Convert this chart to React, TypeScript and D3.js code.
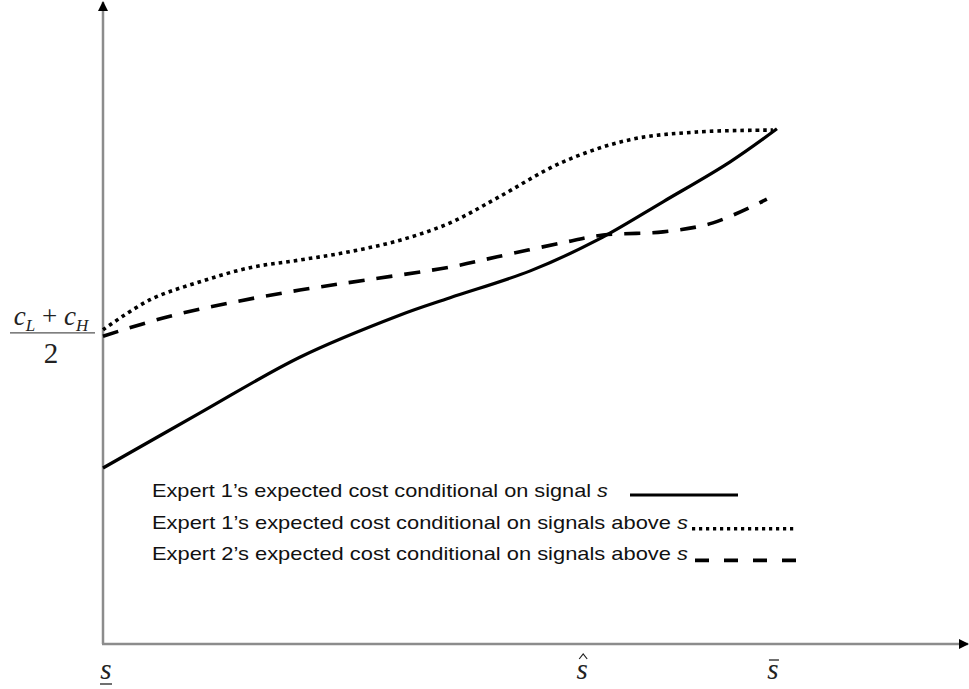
import React, { useEffect, useRef } from 'react';
import * as d3 from 'd3';

// signal axis: 0 = s (lower bound), 1 = s-bar (upper bound)
const xTicks = [
  { value: 0, label: 's', mark: 'under' },
  { value: 0.711, label: 's', mark: 'hat' },
  { value: 1.0, label: 's', mark: 'bar' },
];
const yTickValue = 48.6; // (c_L + c_H) / 2

// Expert 1's expected cost conditional on signal s
const solidX = [0, 0.144, 0.292, 0.441, 0.515, 0.634, 0.733, 0.831, 0.93, 1.0];
const solidY = [27.5, 36.1, 44.8, 51.4, 54.1, 58.3, 63.1, 69.1, 75.3, 80.5];

// Expert 1's expected cost conditional on signals above s
const dottedX = [0, 0.07, 0.144, 0.218, 0.292, 0.366, 0.441, 0.515, 0.585, 0.682, 0.782, 0.881, 0.994];
const dottedY = [49.1, 53.8, 56.6, 58.8, 60.0, 61.3, 63.1, 65.8, 69.7, 75.3, 78.8, 80.0, 80.3];

// Expert 2's expected cost conditional on signals above s
const dashedX = [0, 0.095, 0.193, 0.292, 0.392, 0.515, 0.585, 0.682, 0.742, 0.831, 0.905, 0.985];
const dashedY = [48.1, 51.1, 53.4, 55.3, 56.9, 58.9, 60.5, 62.7, 63.9, 64.4, 65.8, 69.5];

const legendLabels = [
  'Expert 1\u2019s expected cost conditional on signal ',
  'Expert 1\u2019s expected cost conditional on signals above ',
  'Expert 2\u2019s expected cost conditional on signals above ',
];

const W = 969;
const H = 689;

const App: React.FC = () => {
  const svgRef = useRef<SVGSVGElement>(null);

  useEffect(() => {
    document.body.style.margin = '0';
    if (!svgRef.current) return;
    const svg = d3.select(svgRef.current);
    svg.selectAll('*').remove();

    const x = d3.scaleLinear().domain([0, 1.282]).range([103, 967]);
    const y = d3.scaleLinear().domain([0, 100]).range([644, 4]);

    const defs = svg.append('defs');
    defs.append('marker')
      .attr('id', 'arrow')
      .attr('viewBox', '0 0 10 10')
      .attr('refX', 9)
      .attr('refY', 5)
      .attr('markerWidth', 10)
      .attr('markerHeight', 10)
      .attr('markerUnits', 'userSpaceOnUse')
      .attr('orient', 'auto')
      .append('path')
      .attr('d', 'M0,0 L10,5 L0,10 Z')
      .attr('fill', '#000');

    const axisColor = '#8c8c8c';
    // axes
    svg.append('line')
      .attr('x1', x(0)).attr('y1', y(0))
      .attr('x2', x(0)).attr('y2', y(100) - 2)
      .attr('stroke', axisColor).attr('stroke-width', 2.5)
      .attr('marker-end', 'url(#arrow)');
    svg.append('line')
      .attr('x1', x(0) - 1).attr('y1', y(0))
      .attr('x2', x(1.282) + 1).attr('y2', y(0))
      .attr('stroke', axisColor).attr('stroke-width', 2.5)
      .attr('marker-end', 'url(#arrow)');

    const line = d3.line<[number, number]>()
      .x(d => x(d[0]))
      .y(d => y(d[1]))
      .curve(d3.curveCatmullRom.alpha(0.5));

    const zip = (xs: number[], ys: number[]) => xs.map((v, i) => [v, ys[i]] as [number, number]);

    svg.append('path')
      .attr('d', line(zip(solidX, solidY)))
      .attr('fill', 'none').attr('stroke', '#000').attr('stroke-width', 3.2);
    svg.append('path')
      .attr('d', line(zip(dottedX, dottedY)))
      .attr('fill', 'none').attr('stroke', '#000').attr('stroke-width', 3.6)
      .attr('stroke-dasharray', '3.6,4');
    svg.append('path')
      .attr('d', line(zip(dashedX, dashedY)))
      .attr('fill', 'none').attr('stroke', '#000').attr('stroke-width', 3.6)
      .attr('stroke-dasharray', '16,12');

    // y tick label: (c_L + c_H) / 2
    const serif = '"Liberation Serif", "Times New Roman", serif';
    const yl = svg.append('g').attr('font-family', serif).attr('fill', '#222');
    const ty = y(yTickValue);
    const num = yl.append('text')
      .attr('x', 51).attr('y', ty - 8)
      .attr('text-anchor', 'middle')
      .attr('font-size', 27);
    num.append('tspan').attr('font-style', 'italic').text('c');
    num.append('tspan').attr('font-style', 'italic').attr('font-size', 17).attr('dy', 6).text('L');
    num.append('tspan').attr('dy', -6).text(' + ');
    num.append('tspan').attr('font-style', 'italic').text('c');
    num.append('tspan').attr('font-style', 'italic').attr('font-size', 17).attr('dy', 6).text('H');
    yl.append('line')
      .attr('x1', 10).attr('x2', 95)
      .attr('y1', ty).attr('y2', ty)
      .attr('stroke', '#555').attr('stroke-width', 1.3);
    yl.append('text')
      .attr('x', 51).attr('y', ty + 30)
      .attr('text-anchor', 'middle')
      .attr('font-size', 29)
      .text('2');

    // x tick labels
    const tickDx: Record<string, number> = { under: 3, hat: 0, bar: -4 };
    const xl = svg.append('g').attr('font-family', serif).attr('fill', '#222');
    xTicks.forEach(t => {
      const cx = x(t.value) + tickDx[t.mark];
      xl.append('text')
        .attr('x', cx).attr('y', 679)
        .attr('text-anchor', 'middle')
        .attr('font-size', 29)
        .attr('font-style', 'italic')
        .text(t.label);
      if (t.mark === 'under') {
        xl.append('line')
          .attr('x1', cx - 6).attr('x2', cx + 6)
          .attr('y1', 684).attr('y2', 684)
          .attr('stroke', '#222').attr('stroke-width', 1.3);
      } else if (t.mark === 'bar') {
        xl.append('line')
          .attr('x1', cx - 4).attr('x2', cx + 6)
          .attr('y1', 660).attr('y2', 660)
          .attr('stroke', '#222').attr('stroke-width', 1.3);
      } else {
        xl.append('path')
          .attr('d', `M${cx - 3},${659} L${cx + 1},${654} L${cx + 5},${659}`)
          .attr('fill', 'none')
          .attr('stroke', '#222').attr('stroke-width', 1.2);
      }
    });

    // legend
    const lg = svg.append('g')
      .attr('font-family', '"Liberation Sans", Arial, sans-serif')
      .attr('font-size', 19)
      .attr('fill', '#111');
    const legendTop = 497;
    const rowGap = 31.7;
    const textWidths = [456, 536, 536];
    const swatches = [
      { x1: 630, x2: 738, width: 3.2, dash: null },
      { x1: 692, x2: 795, width: 3.4, dash: '3.2,3.8' },
      { x1: 695, x2: 800, width: 3.6, dash: '14,15' },
    ];
    legendLabels.forEach((label, i) => {
      const by = legendTop + i * rowGap;
      const t = lg.append('text')
        .attr('x', 152).attr('y', by)
        .attr('textLength', textWidths[i])
        .attr('lengthAdjust', 'spacingAndGlyphs');
      t.append('tspan').text(label);
      t.append('tspan').attr('font-style', 'italic').text('s');
      const sw = swatches[i];
      const ly = i === 0 ? by - 2 : by;
      const seg = lg.append('line')
        .attr('x1', sw.x1).attr('x2', sw.x2)
        .attr('y1', ly).attr('y2', ly)
        .attr('stroke', '#000').attr('stroke-width', sw.width);
      if (sw.dash) seg.attr('stroke-dasharray', sw.dash);
    });
  }, []);

  return (
    <svg
      ref={svgRef}
      width={W}
      height={H}
      style={{ position: 'absolute', left: 0, top: 0, background: '#fff' }}
    />
  );
};

export default App;
